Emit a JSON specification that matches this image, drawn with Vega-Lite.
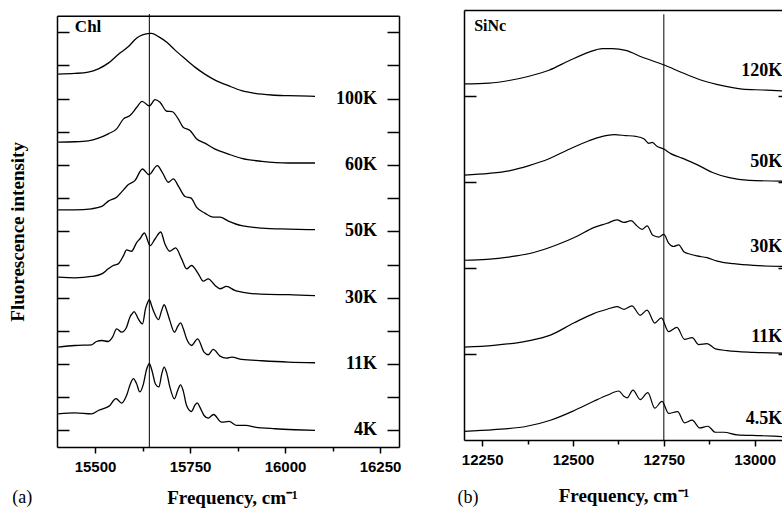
{
  "$schema": "https://vega.github.io/schema/vega-lite/v6.json",
  "background": "white",
  "padding": {"left": 7, "top": 10, "right": 0, "bottom": 0},
  "columns": 2,
  "align": "none",
  "spacing": 56,
  "config": {
    "view": {"stroke": null},
    "axis": {"domainColor": "black", "tickColor": "black", "domainWidth": 1.5, "tickWidth": 1.5, "labelColor": "black", "titleColor": "black", "grid": false}
  },
  "datasets": {
    "chl": [
      {"T": "100K", "f": 15403, "v": 10.74}, {"T": "100K", "f": 15447, "v": 10.76}, {"T": "100K", "f": 15482, "v": 10.80}, {"T": "100K", "f": 15509, "v": 10.90}, {"T": "100K", "f": 15535, "v": 11.07}, {"T": "100K", "f": 15561, "v": 11.33}, {"T": "100K", "f": 15588, "v": 11.57}, {"T": "100K", "f": 15610, "v": 11.83}, {"T": "100K", "f": 15627, "v": 11.93}, {"T": "100K", "f": 15649, "v": 11.97}, {"T": "100K", "f": 15667, "v": 11.87}, {"T": "100K", "f": 15689, "v": 11.70}, {"T": "100K", "f": 15710, "v": 11.47}, {"T": "100K", "f": 15737, "v": 11.20}, {"T": "100K", "f": 15763, "v": 10.95}, {"T": "100K", "f": 15789, "v": 10.74}, {"T": "100K", "f": 15816, "v": 10.56}, {"T": "100K", "f": 15851, "v": 10.39}, {"T": "100K", "f": 15886, "v": 10.24}, {"T": "100K", "f": 15921, "v": 10.16}, {"T": "100K", "f": 15965, "v": 10.11}, {"T": "100K", "f": 16009, "v": 10.09}, {"T": "100K", "f": 16079, "v": 10.07},
      {"T": "60K", "f": 15403, "v": 8.69}, {"T": "60K", "f": 15447, "v": 8.70}, {"T": "60K", "f": 15482, "v": 8.73}, {"T": "60K", "f": 15509, "v": 8.81}, {"T": "60K", "f": 15535, "v": 8.94}, {"T": "60K", "f": 15557, "v": 9.09}, {"T": "60K", "f": 15575, "v": 9.39}, {"T": "60K", "f": 15592, "v": 9.49}, {"T": "60K", "f": 15610, "v": 9.74}, {"T": "60K", "f": 15624, "v": 9.92}, {"T": "60K", "f": 15643, "v": 9.78}, {"T": "60K", "f": 15658, "v": 9.97}, {"T": "60K", "f": 15671, "v": 9.89}, {"T": "60K", "f": 15689, "v": 9.62}, {"T": "60K", "f": 15703, "v": 9.61}, {"T": "60K", "f": 15719, "v": 9.39}, {"T": "60K", "f": 15732, "v": 9.14}, {"T": "60K", "f": 15750, "v": 9.04}, {"T": "60K", "f": 15767, "v": 8.79}, {"T": "60K", "f": 15789, "v": 8.66}, {"T": "60K", "f": 15816, "v": 8.48}, {"T": "60K", "f": 15851, "v": 8.33}, {"T": "60K", "f": 15886, "v": 8.20}, {"T": "60K", "f": 15939, "v": 8.11}, {"T": "60K", "f": 16009, "v": 8.06}, {"T": "60K", "f": 16079, "v": 8.06},
      {"T": "50K", "f": 15403, "v": 6.65}, {"T": "50K", "f": 15447, "v": 6.65}, {"T": "50K", "f": 15491, "v": 6.68}, {"T": "50K", "f": 15518, "v": 6.75}, {"T": "50K", "f": 15535, "v": 6.91}, {"T": "50K", "f": 15557, "v": 7.03}, {"T": "50K", "f": 15575, "v": 7.25}, {"T": "50K", "f": 15588, "v": 7.41}, {"T": "50K", "f": 15605, "v": 7.53}, {"T": "50K", "f": 15625, "v": 7.88}, {"T": "50K", "f": 15642, "v": 7.71}, {"T": "50K", "f": 15664, "v": 7.98}, {"T": "50K", "f": 15677, "v": 7.78}, {"T": "50K", "f": 15693, "v": 7.48}, {"T": "50K", "f": 15706, "v": 7.58}, {"T": "50K", "f": 15721, "v": 7.33}, {"T": "50K", "f": 15737, "v": 7.05}, {"T": "50K", "f": 15753, "v": 7.00}, {"T": "50K", "f": 15767, "v": 6.73}, {"T": "50K", "f": 15789, "v": 6.55}, {"T": "50K", "f": 15811, "v": 6.43}, {"T": "50K", "f": 15829, "v": 6.43}, {"T": "50K", "f": 15851, "v": 6.31}, {"T": "50K", "f": 15886, "v": 6.17}, {"T": "50K", "f": 15939, "v": 6.10}, {"T": "50K", "f": 16009, "v": 6.07}, {"T": "50K", "f": 16079, "v": 6.05},
      {"T": "30K", "f": 15403, "v": 4.62}, {"T": "30K", "f": 15447, "v": 4.60}, {"T": "30K", "f": 15491, "v": 4.64}, {"T": "30K", "f": 15518, "v": 4.72}, {"T": "30K", "f": 15535, "v": 4.87}, {"T": "30K", "f": 15548, "v": 4.97}, {"T": "30K", "f": 15561, "v": 5.02}, {"T": "30K", "f": 15575, "v": 5.27}, {"T": "30K", "f": 15583, "v": 5.44}, {"T": "30K", "f": 15596, "v": 5.40}, {"T": "30K", "f": 15610, "v": 5.67}, {"T": "30K", "f": 15618, "v": 5.77}, {"T": "30K", "f": 15630, "v": 5.95}, {"T": "30K", "f": 15645, "v": 5.57}, {"T": "30K", "f": 15658, "v": 5.77}, {"T": "30K", "f": 15673, "v": 5.98}, {"T": "30K", "f": 15684, "v": 5.62}, {"T": "30K", "f": 15697, "v": 5.40}, {"T": "30K", "f": 15712, "v": 5.50}, {"T": "30K", "f": 15728, "v": 5.17}, {"T": "30K", "f": 15741, "v": 4.87}, {"T": "30K", "f": 15754, "v": 4.97}, {"T": "30K", "f": 15772, "v": 4.72}, {"T": "30K", "f": 15785, "v": 4.50}, {"T": "30K", "f": 15798, "v": 4.57}, {"T": "30K", "f": 15816, "v": 4.37}, {"T": "30K", "f": 15829, "v": 4.27}, {"T": "30K", "f": 15846, "v": 4.34}, {"T": "30K", "f": 15868, "v": 4.22}, {"T": "30K", "f": 15903, "v": 4.14}, {"T": "30K", "f": 15956, "v": 4.10}, {"T": "30K", "f": 16009, "v": 4.09}, {"T": "30K", "f": 16079, "v": 4.06},
      {"T": "11K", "f": 15403, "v": 2.51}, {"T": "11K", "f": 15447, "v": 2.56}, {"T": "11K", "f": 15491, "v": 2.58}, {"T": "11K", "f": 15504, "v": 2.68}, {"T": "11K", "f": 15518, "v": 2.71}, {"T": "11K", "f": 15535, "v": 2.68}, {"T": "11K", "f": 15546, "v": 2.81}, {"T": "11K", "f": 15557, "v": 3.06}, {"T": "11K", "f": 15570, "v": 2.96}, {"T": "11K", "f": 15583, "v": 3.11}, {"T": "11K", "f": 15592, "v": 3.42}, {"T": "11K", "f": 15598, "v": 3.52}, {"T": "11K", "f": 15603, "v": 3.58}, {"T": "11K", "f": 15609, "v": 3.48}, {"T": "11K", "f": 15614, "v": 3.36}, {"T": "11K", "f": 15625, "v": 3.21}, {"T": "11K", "f": 15633, "v": 3.67}, {"T": "11K", "f": 15638, "v": 3.84}, {"T": "11K", "f": 15643, "v": 3.94}, {"T": "11K", "f": 15649, "v": 3.76}, {"T": "11K", "f": 15655, "v": 3.57}, {"T": "11K", "f": 15667, "v": 3.34}, {"T": "11K", "f": 15676, "v": 3.64}, {"T": "11K", "f": 15682, "v": 3.79}, {"T": "11K", "f": 15688, "v": 3.64}, {"T": "11K", "f": 15697, "v": 3.31}, {"T": "11K", "f": 15709, "v": 2.96}, {"T": "11K", "f": 15718, "v": 3.14}, {"T": "11K", "f": 15725, "v": 3.24}, {"T": "11K", "f": 15732, "v": 3.08}, {"T": "11K", "f": 15741, "v": 2.76}, {"T": "11K", "f": 15754, "v": 2.56}, {"T": "11K", "f": 15770, "v": 2.76}, {"T": "11K", "f": 15787, "v": 2.36}, {"T": "11K", "f": 15798, "v": 2.28}, {"T": "11K", "f": 15811, "v": 2.44}, {"T": "11K", "f": 15829, "v": 2.24}, {"T": "11K", "f": 15846, "v": 2.18}, {"T": "11K", "f": 15860, "v": 2.21}, {"T": "11K", "f": 15886, "v": 2.14}, {"T": "11K", "f": 15939, "v": 2.10}, {"T": "11K", "f": 16009, "v": 2.06}, {"T": "11K", "f": 16079, "v": 2.04},
      {"T": "4K", "f": 15403, "v": 0.50}, {"T": "4K", "f": 15447, "v": 0.53}, {"T": "4K", "f": 15491, "v": 0.50}, {"T": "4K", "f": 15509, "v": 0.60}, {"T": "4K", "f": 15526, "v": 0.67}, {"T": "4K", "f": 15539, "v": 0.75}, {"T": "4K", "f": 15550, "v": 0.92}, {"T": "4K", "f": 15556, "v": 0.96}, {"T": "4K", "f": 15562, "v": 0.90}, {"T": "4K", "f": 15570, "v": 0.82}, {"T": "4K", "f": 15583, "v": 1.05}, {"T": "4K", "f": 15593, "v": 1.40}, {"T": "4K", "f": 15601, "v": 1.56}, {"T": "4K", "f": 15609, "v": 1.42}, {"T": "4K", "f": 15618, "v": 1.16}, {"T": "4K", "f": 15627, "v": 1.38}, {"T": "4K", "f": 15636, "v": 1.85}, {"T": "4K", "f": 15643, "v": 2.01}, {"T": "4K", "f": 15650, "v": 1.80}, {"T": "4K", "f": 15659, "v": 1.40}, {"T": "4K", "f": 15668, "v": 1.31}, {"T": "4K", "f": 15676, "v": 1.72}, {"T": "4K", "f": 15682, "v": 1.91}, {"T": "4K", "f": 15689, "v": 1.72}, {"T": "4K", "f": 15697, "v": 1.31}, {"T": "4K", "f": 15709, "v": 0.95}, {"T": "4K", "f": 15718, "v": 1.22}, {"T": "4K", "f": 15725, "v": 1.37}, {"T": "4K", "f": 15732, "v": 1.20}, {"T": "4K", "f": 15741, "v": 0.75}, {"T": "4K", "f": 15754, "v": 0.57}, {"T": "4K", "f": 15763, "v": 0.76}, {"T": "4K", "f": 15769, "v": 0.83}, {"T": "4K", "f": 15776, "v": 0.70}, {"T": "4K", "f": 15787, "v": 0.45}, {"T": "4K", "f": 15798, "v": 0.37}, {"T": "4K", "f": 15812, "v": 0.48}, {"T": "4K", "f": 15833, "v": 0.25}, {"T": "4K", "f": 15853, "v": 0.27}, {"T": "4K", "f": 15873, "v": 0.15}, {"T": "4K", "f": 15897, "v": 0.15}, {"T": "4K", "f": 15921, "v": 0.10}, {"T": "4K", "f": 15974, "v": 0.05}, {"T": "4K", "f": 16026, "v": 0.02}, {"T": "4K", "f": 16079, "v": 0.00}
    ],
    "chlLabels": [
      {"label": "100K", "f": 16242, "v": 10},
      {"label": "60K", "f": 16242, "v": 8},
      {"label": "50K", "f": 16242, "v": 6},
      {"label": "30K", "f": 16242, "v": 4},
      {"label": "11K", "f": 16242, "v": 2},
      {"label": "4K", "f": 16242, "v": 0}
    ],
    "sinc": [
      {"T": "120K", "f": 12200, "v": 4.14}, {"T": "120K", "f": 12269, "v": 4.15}, {"T": "120K", "f": 12324, "v": 4.18}, {"T": "120K", "f": 12379, "v": 4.23}, {"T": "120K", "f": 12434, "v": 4.30}, {"T": "120K", "f": 12489, "v": 4.41}, {"T": "120K", "f": 12544, "v": 4.51}, {"T": "120K", "f": 12581, "v": 4.55}, {"T": "120K", "f": 12608, "v": 4.55}, {"T": "120K", "f": 12645, "v": 4.53}, {"T": "120K", "f": 12691, "v": 4.45}, {"T": "120K", "f": 12751, "v": 4.36}, {"T": "120K", "f": 12801, "v": 4.27}, {"T": "120K", "f": 12856, "v": 4.18}, {"T": "120K", "f": 12911, "v": 4.12}, {"T": "120K", "f": 12966, "v": 4.08}, {"T": "120K", "f": 13021, "v": 4.07}, {"T": "120K", "f": 13076, "v": 4.06},
      {"T": "50K", "f": 12200, "v": 3.08}, {"T": "50K", "f": 12269, "v": 3.10}, {"T": "50K", "f": 12324, "v": 3.13}, {"T": "50K", "f": 12379, "v": 3.19}, {"T": "50K", "f": 12434, "v": 3.27}, {"T": "50K", "f": 12489, "v": 3.38}, {"T": "50K", "f": 12544, "v": 3.48}, {"T": "50K", "f": 12581, "v": 3.53}, {"T": "50K", "f": 12613, "v": 3.55}, {"T": "50K", "f": 12645, "v": 3.54}, {"T": "50K", "f": 12673, "v": 3.53}, {"T": "50K", "f": 12696, "v": 3.50}, {"T": "50K", "f": 12709, "v": 3.45}, {"T": "50K", "f": 12718, "v": 3.46}, {"T": "50K", "f": 12730, "v": 3.42}, {"T": "50K", "f": 12751, "v": 3.38}, {"T": "50K", "f": 12769, "v": 3.33}, {"T": "50K", "f": 12792, "v": 3.29}, {"T": "50K", "f": 12810, "v": 3.26}, {"T": "50K", "f": 12847, "v": 3.19}, {"T": "50K", "f": 12884, "v": 3.11}, {"T": "50K", "f": 12930, "v": 3.05}, {"T": "50K", "f": 12985, "v": 3.02}, {"T": "50K", "f": 13076, "v": 3.01},
      {"T": "30K", "f": 12200, "v": 2.09}, {"T": "30K", "f": 12263, "v": 2.10}, {"T": "30K", "f": 12327, "v": 2.13}, {"T": "30K", "f": 12392, "v": 2.18}, {"T": "30K", "f": 12456, "v": 2.27}, {"T": "30K", "f": 12511, "v": 2.37}, {"T": "30K", "f": 12557, "v": 2.47}, {"T": "30K", "f": 12594, "v": 2.52}, {"T": "30K", "f": 12621, "v": 2.56}, {"T": "30K", "f": 12640, "v": 2.53}, {"T": "30K", "f": 12660, "v": 2.55}, {"T": "30K", "f": 12676, "v": 2.49}, {"T": "30K", "f": 12690, "v": 2.45}, {"T": "30K", "f": 12704, "v": 2.49}, {"T": "30K", "f": 12720, "v": 2.38}, {"T": "30K", "f": 12736, "v": 2.36}, {"T": "30K", "f": 12750, "v": 2.39}, {"T": "30K", "f": 12763, "v": 2.29}, {"T": "30K", "f": 12777, "v": 2.25}, {"T": "30K", "f": 12791, "v": 2.27}, {"T": "30K", "f": 12805, "v": 2.19}, {"T": "30K", "f": 12823, "v": 2.16}, {"T": "30K", "f": 12841, "v": 2.14}, {"T": "30K", "f": 12869, "v": 2.12}, {"T": "30K", "f": 12897, "v": 2.08}, {"T": "30K", "f": 12942, "v": 2.05}, {"T": "30K", "f": 12997, "v": 2.03}, {"T": "30K", "f": 13076, "v": 2.02},
      {"T": "11K", "f": 12200, "v": 1.08}, {"T": "11K", "f": 12282, "v": 1.10}, {"T": "11K", "f": 12373, "v": 1.15}, {"T": "11K", "f": 12438, "v": 1.22}, {"T": "11K", "f": 12502, "v": 1.36}, {"T": "11K", "f": 12557, "v": 1.47}, {"T": "11K", "f": 12594, "v": 1.52}, {"T": "11K", "f": 12621, "v": 1.55}, {"T": "11K", "f": 12641, "v": 1.52}, {"T": "11K", "f": 12662, "v": 1.56}, {"T": "11K", "f": 12685, "v": 1.45}, {"T": "11K", "f": 12704, "v": 1.51}, {"T": "11K", "f": 12725, "v": 1.36}, {"T": "11K", "f": 12743, "v": 1.42}, {"T": "11K", "f": 12763, "v": 1.26}, {"T": "11K", "f": 12786, "v": 1.31}, {"T": "11K", "f": 12807, "v": 1.17}, {"T": "11K", "f": 12828, "v": 1.19}, {"T": "11K", "f": 12846, "v": 1.11}, {"T": "11K", "f": 12869, "v": 1.12}, {"T": "11K", "f": 12892, "v": 1.06}, {"T": "11K", "f": 12924, "v": 1.04}, {"T": "11K", "f": 12997, "v": 1.02}, {"T": "11K", "f": 13076, "v": 1.01},
      {"T": "4.5K", "f": 12200, "v": 0.10}, {"T": "4.5K", "f": 12282, "v": 0.12}, {"T": "4.5K", "f": 12373, "v": 0.16}, {"T": "4.5K", "f": 12438, "v": 0.23}, {"T": "4.5K", "f": 12502, "v": 0.34}, {"T": "4.5K", "f": 12557, "v": 0.45}, {"T": "4.5K", "f": 12594, "v": 0.52}, {"T": "4.5K", "f": 12626, "v": 0.57}, {"T": "4.5K", "f": 12640, "v": 0.51}, {"T": "4.5K", "f": 12649, "v": 0.49}, {"T": "4.5K", "f": 12665, "v": 0.58}, {"T": "4.5K", "f": 12685, "v": 0.47}, {"T": "4.5K", "f": 12706, "v": 0.55}, {"T": "4.5K", "f": 12725, "v": 0.37}, {"T": "4.5K", "f": 12745, "v": 0.45}, {"T": "4.5K", "f": 12763, "v": 0.31}, {"T": "4.5K", "f": 12788, "v": 0.33}, {"T": "4.5K", "f": 12807, "v": 0.20}, {"T": "4.5K", "f": 12828, "v": 0.23}, {"T": "4.5K", "f": 12849, "v": 0.14}, {"T": "4.5K", "f": 12871, "v": 0.16}, {"T": "4.5K", "f": 12892, "v": 0.09}, {"T": "4.5K", "f": 12915, "v": 0.09}, {"T": "4.5K", "f": 12952, "v": 0.06}, {"T": "4.5K", "f": 13016, "v": 0.05}, {"T": "4.5K", "f": 13076, "v": 0.04}
    ],
    "sincLabels": [
      {"label": "120K", "f": 13076, "v": 4.29},
      {"label": "50K", "f": 13076, "v": 3.23},
      {"label": "30K", "f": 13076, "v": 2.24},
      {"label": "11K", "f": 13076, "v": 1.20},
      {"label": "4.5K", "f": 13076, "v": 0.245}
    ]
  },
  "concat": [
    {
      "width": 342,
      "height": 437,
      "layer": [
        {
          "data": {"name": "chl"},
          "mark": {"type": "line", "color": "black", "strokeWidth": 1.3, "interpolate": "monotone"},
          "encoding": {
            "x": {"field": "f", "type": "quantitative",
              "scale": {"domain": [15400, 16300], "nice": false, "zero": false},
              "axis": {"orient": "bottom", "values": [15500, 15750, 16000, 16250], "format": "d", "tickSize": 6, "labelFont": "Liberation Sans", "labelFontWeight": "bold", "labelFontSize": 15, "labelPadding": 6,
                "title": "Frequency, cm⁻¹", "titleFont": "Liberation Serif", "titleFontSize": 19, "titleFontWeight": "bold", "titleY": 56, "titleX": 175, "titleBaseline": "alphabetic"}},
            "y": {"field": "v", "type": "quantitative",
              "scale": {"domain": [-0.5, 12.5], "range": [437, 5.7], "nice": false, "zero": false},
              "axis": {"orient": "left", "values": [0, 1, 2, 3, 4, 5, 6, 7, 8, 9, 10, 11, 12], "tickSize": -12, "labels": false,
                "title": "Fluorescence intensity", "titleFont": "Liberation Serif", "titleFontSize": 19, "titleFontWeight": "bold", "titleX": -40, "titleBaseline": "middle"}},
            "detail": {"field": "T"}
          }
        },
        {
          "data": {"name": "chlLabels"},
          "mark": {"type": "text", "align": "right", "baseline": "middle", "font": "Liberation Serif", "fontWeight": "bold", "fontSize": 18, "color": "black"},
          "encoding": {
            "x": {"field": "f", "type": "quantitative", "axis": {"orient": "bottom", "values": [15625, 15875, 16125], "tickSize": 4, "labels": false, "domain": false, "title": null}},
            "y": {"field": "v", "type": "quantitative", "axis": {"orient": "right", "values": [0, 1, 2, 3, 4, 5, 6, 7, 8, 9, 10, 11, 12], "tickSize": -12, "labels": false, "title": null}},
            "text": {"field": "label"}
          }
        },
        {
          "data": {"values": [{"f": 15643}]},
          "mark": {"type": "rule", "color": "black", "strokeWidth": 1},
          "encoding": {
            "x": {"field": "f", "type": "quantitative", "axis": {"orient": "top", "offset": -5.7, "ticks": false, "labels": false, "title": null}},
            "y": {"datum": -0.5, "type": "quantitative", "axis": null},
            "y2": {"datum": 12.55}
          }
        },
        {
          "data": {"values": [{"name": "Chl", "f": 15447, "v": 12.17}]},
          "mark": {"type": "text", "align": "left", "baseline": "middle", "font": "Liberation Serif", "fontWeight": "bold", "fontSize": 17, "color": "black"},
          "encoding": {
            "x": {"field": "f", "type": "quantitative", "axis": null},
            "y": {"field": "v", "type": "quantitative", "axis": null},
            "text": {"field": "name"}
          }
        },
        {
          "data": {"values": [{"name": "(a)", "f": 15282, "v": -2.2}]},
          "mark": {"type": "text", "align": "left", "baseline": "alphabetic", "font": "Liberation Serif", "fontSize": 18, "color": "black"},
          "encoding": {
            "x": {"field": "f", "type": "quantitative", "axis": null},
            "y": {"field": "v", "type": "quantitative", "axis": null},
            "text": {"field": "name"}
          }
        }
      ],
      "resolve": {"axis": {"x": "independent", "y": "independent"}}
    },
    {
      "width": 319,
      "height": 430,
      "layer": [
        {
          "data": {"name": "sinc"},
          "mark": {"type": "line", "color": "black", "strokeWidth": 1.2, "interpolate": "monotone"},
          "encoding": {
            "x": {"field": "f", "type": "quantitative",
              "scale": {"domain": [12200, 13078], "nice": false, "zero": false},
              "axis": {"orient": "bottom", "values": [12250, 12500, 12750, 13000], "format": "d", "tickSize": 6, "labelFont": "Liberation Sans", "labelFontWeight": "bold", "labelFontSize": 15, "labelPadding": 6,
                "title": "Frequency, cm⁻¹", "titleFont": "Liberation Serif", "titleFontSize": 19, "titleFontWeight": "bold", "titleY": 61, "titleBaseline": "alphabetic"}},
            "y": {"field": "v", "type": "quantitative",
              "scale": {"domain": [0, 5], "nice": false, "zero": false},
              "axis": {"orient": "left", "values": [1, 2, 3, 4], "tickSize": -12, "labels": false, "title": null}},
            "detail": {"field": "T"}
          }
        },
        {
          "data": {"name": "sincLabels"},
          "mark": {"type": "text", "align": "right", "baseline": "middle", "font": "Liberation Serif", "fontWeight": "bold", "fontSize": 18, "color": "black"},
          "encoding": {
            "x": {"field": "f", "type": "quantitative", "axis": {"orient": "bottom", "values": [12375, 12625, 12875], "tickSize": 4, "labels": false, "domain": false, "title": null}},
            "y": {"field": "v", "type": "quantitative", "axis": {"orient": "right", "values": [1, 2, 3, 4], "tickSize": -5, "labels": false, "domain": false, "title": null}},
            "text": {"field": "label"}
          }
        },
        {
          "data": {"values": [{"f": 12750}]},
          "mark": {"type": "rule", "color": "black", "strokeWidth": 1},
          "encoding": {
            "x": {"field": "f", "type": "quantitative", "axis": {"orient": "top", "ticks": false, "labels": false, "title": null}},
            "y": {"datum": 0, "type": "quantitative", "axis": null},
            "y2": {"datum": 4.95}
          }
        },
        {
          "data": {"values": [{"name": "SiNc", "f": 12228, "v": 4.81}]},
          "mark": {"type": "text", "align": "left", "baseline": "middle", "font": "Liberation Serif", "fontWeight": "bold", "fontSize": 16, "color": "black"},
          "encoding": {
            "x": {"field": "f", "type": "quantitative", "axis": null},
            "y": {"field": "v", "type": "quantitative", "axis": null},
            "text": {"field": "name"}
          }
        },
        {
          "data": {"values": [{"name": "(b)", "f": 12182, "v": -0.734}]},
          "mark": {"type": "text", "align": "left", "baseline": "alphabetic", "font": "Liberation Serif", "fontSize": 18, "color": "black"},
          "encoding": {
            "x": {"field": "f", "type": "quantitative", "axis": null},
            "y": {"field": "v", "type": "quantitative", "axis": null},
            "text": {"field": "name"}
          }
        }
      ],
      "resolve": {"axis": {"x": "independent", "y": "independent"}}
    }
  ]
}
